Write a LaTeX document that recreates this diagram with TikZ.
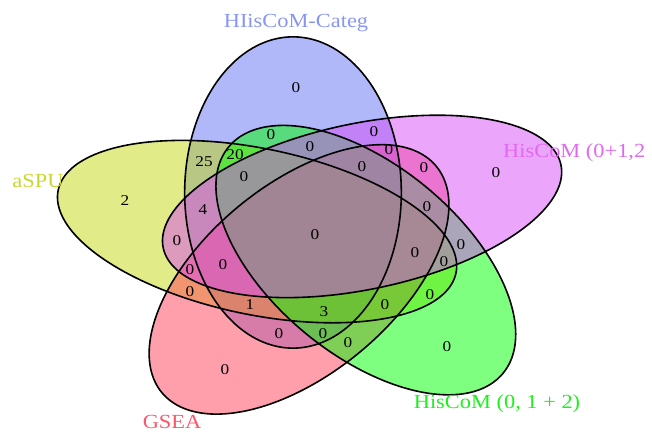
\documentclass[tikz,border=0pt]{standalone}
\usepackage{fontspec}
\setmainfont{Liberation Serif}
\newfontfamily\labfont[FakeStretch=1.12]{Liberation Serif}
\newfontfamily\numfont[FakeStretch=1.15]{Liberation Serif}
\definecolor{cblue}{RGB}{97,113,245}
\definecolor{cyel}{RGB}{195,215,15}
\definecolor{cpink}{RGB}{255,64,90}
\definecolor{cgreen}{RGB}{0,255,0}
\definecolor{cmag}{RGB}{215,75,245}
\definecolor{lblue}{RGB}{135,150,245}
\definecolor{lyel}{RGB}{200,215,50}
\definecolor{lpink}{RGB}{255,85,105}
\definecolor{lgreen}{RGB}{30,240,30}
\definecolor{lmag}{RGB}{225,105,240}
% ellipse in unit layout coordinates: #1 cx, #2 cy, #3 rotation, #4 path options
\newcommand\vennellipse[4]{%
  \path[#4] plot[domain=0:360,samples=181,variable=\t]
   ({#1+0.466*cos(\t)*cos(#3)-0.244*sin(\t)*sin(#3)},
    {#2+0.466*cos(\t)*sin(#3)+0.244*sin(\t)*cos(#3)}) -- cycle;}
\begin{document}
\begin{tikzpicture}[x=1pt,y=1pt,
  num/.style={font=\numfont\fontsize{15}{15}\selectfont, inner sep=0pt},
  lab/.style={font=\labfont\fontsize{20}{20}\selectfont, inner sep=0pt, anchor=base},
  setfill/.style={fill=#1, fill opacity=0.5},
  outline/.style={draw=black, line width=1.6pt}]
\useasboundingbox (0,0) rectangle (652,-432);
\begin{scope}[shift={(314.8,-235.2)}, xscale=444, yscale=334]
  \vennellipse{-0.0491}{0.1279}{90}{setfill=cblue}
  \vennellipse{-0.130}{0.0108}{162}{setfill=cyel}
  \vennellipse{-0.0355}{-0.1323}{234}{setfill=cpink}
  \vennellipse{0.1149}{-0.0746}{306}{setfill=cgreen}
  \vennellipse{0.1065}{0.0862}{18}{setfill=cmag}
  \vennellipse{-0.0491}{0.1279}{90}{outline}
  \vennellipse{-0.130}{0.0108}{162}{outline}
  \vennellipse{-0.0355}{-0.1323}{234}{outline}
  \vennellipse{0.1149}{-0.0746}{306}{outline}
  \vennellipse{0.1065}{0.0862}{18}{outline}
\end{scope}
% category labels
\node[lab, text=lblue] (labB) at (296,-27) {HIisCoM-Categ};
\node[lab, text=lyel] (labY) at (38,-187) {aSPU};
\node[lab, text=lmag, anchor=base west] (labM) at (503,-157) {HisCoM (0+1,2};
\node[lab, text=lgreen] (labG) at (497,-408) {HisCoM (0, 1 + 2)};
\node[lab, text=lpink] (labP) at (172,-428.5) {GSEA};
% region counts
\node[num] (r1) at (296,-88) {0};
\node[num] (r2) at (271,-135) {0};
\node[num] (r3) at (374,-132) {0};
\node[num] (r4) at (310,-147) {0};
\node[num] (r5) at (389,-150) {0};
\node[num] (r6) at (204,-162) {25};
\node[num] (r7) at (235,-155) {20};
\node[num] (r8) at (244,-177) {0};
\node[num] (r9) at (362,-167) {0};
\node[num] (r10) at (424,-168) {0};
\node[num] (r11) at (496,-173) {0};
\node[num] (r12) at (125,-201) {2};
\node[num] (r13) at (203,-210) {4};
\node[num] (r14) at (427,-207) {0};
\node[num] (r15) at (177,-241) {0};
\node[num] (r16) at (315,-235) {0};
\node[num] (r17) at (461,-245) {0};
\node[num] (r18) at (415,-253) {0};
\node[num] (r19) at (444,-262) {0};
\node[num] (r20) at (190,-270) {0};
\node[num] (r21) at (223,-265) {0};
\node[num] (r22) at (190,-292) {0};
\node[num] (r23) at (430,-295) {0};
\node[num] (r24) at (250,-305) {1};
\node[num] (r25) at (324,-312) {3};
\node[num] (r26) at (385,-305) {0};
\node[num] (r27) at (279,-334) {0};
\node[num] (r28) at (323,-334) {0};
\node[num] (r29) at (348,-343) {0};
\node[num] (r30) at (225,-370) {0};
\node[num] (r31) at (447,-347) {0};
\end{tikzpicture}
\end{document}
